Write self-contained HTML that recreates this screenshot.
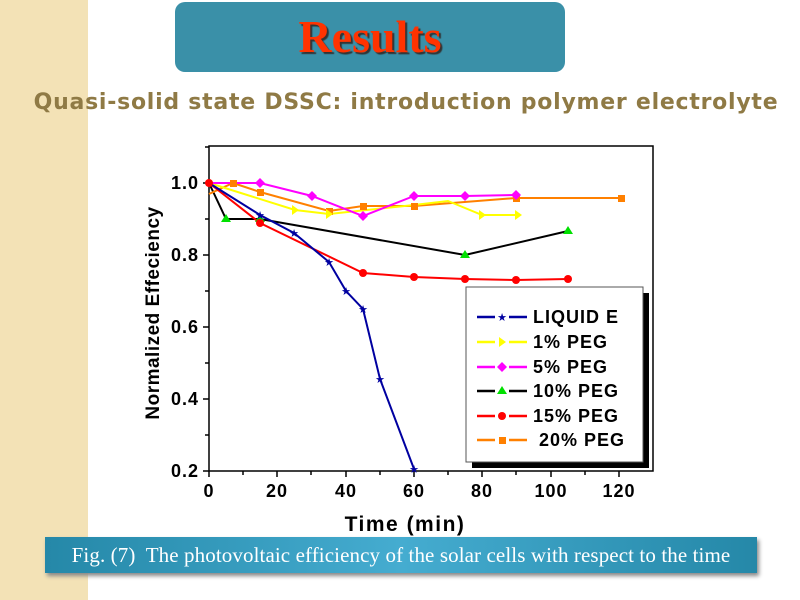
<!DOCTYPE html>
<html><head><meta charset="utf-8"><style>
body{margin:0;width:800px;height:600px;overflow:hidden;background:#fff;position:relative;font-family:"Liberation Sans",sans-serif}
.strip{position:absolute;left:0;top:0;width:88px;height:600px;background:#f3e2b6}
.tbox{position:absolute;left:175px;top:2px;width:390px;height:70px;border-radius:10px;background:#3a90a8}
.ttl{position:absolute;left:175px;top:10px;width:390px;text-align:center;font:bold 46px "Liberation Serif",serif;color:#ff3300;text-shadow:2px 2px 1px #333}
.sub{position:absolute;left:0;top:90px;width:812px;text-align:center;font:bold 22px "DejaVu Sans",sans-serif;color:#8f7a45;letter-spacing:0.75px}
.cap{position:absolute;left:45px;top:537px;width:712px;height:36px;background:linear-gradient(90deg,#2588a8,#45acd0 50%,#2588a8);box-shadow:2px 3px 4px #888;color:#fff;font:21px "Liberation Serif",serif;line-height:36px;text-align:center;letter-spacing:0.1px}
</style></head><body>
<div class="strip"></div>
<div class="tbox"></div><div class="ttl">Results</div>
<div class="sub">Quasi-solid state DSSC: introduction polymer electrolyte</div>
<svg width="800" height="600" style="position:absolute;left:0;top:0">
<g font-family="Liberation Sans" font-weight="bold" font-size="17" fill="#000">
<rect x="209" y="146" width="444" height="325" fill="none" stroke="#000" stroke-width="1.5"/>
<g stroke="#000" stroke-width="1.5">
<line x1="209" y1="471" x2="209" y2="477"/><line x1="277" y1="471" x2="277" y2="477"/><line x1="346" y1="471" x2="346" y2="477"/><line x1="414" y1="471" x2="414" y2="477"/><line x1="482" y1="471" x2="482" y2="477"/><line x1="551" y1="471" x2="551" y2="477"/><line x1="619" y1="471" x2="619" y2="477"/>
<line x1="243" y1="471" x2="243" y2="475"/><line x1="311" y1="471" x2="311" y2="475"/><line x1="380" y1="471" x2="380" y2="475"/><line x1="448" y1="471" x2="448" y2="475"/><line x1="516" y1="471" x2="516" y2="475"/><line x1="585" y1="471" x2="585" y2="475"/>
<line x1="203" y1="471" x2="209" y2="471"/><line x1="203" y1="399" x2="209" y2="399"/><line x1="203" y1="327" x2="209" y2="327"/><line x1="203" y1="255" x2="209" y2="255"/><line x1="203" y1="183" x2="209" y2="183"/>
<line x1="205" y1="435" x2="209" y2="435"/><line x1="205" y1="363" x2="209" y2="363"/><line x1="205" y1="291" x2="209" y2="291"/><line x1="205" y1="219" x2="209" y2="219"/><line x1="205" y1="147" x2="209" y2="147"/>
</g>
<g text-anchor="middle" letter-spacing="1" font-size="18"><text x="209" y="497">0</text><text x="277" y="497">20</text><text x="346" y="497">40</text><text x="414" y="497">60</text><text x="482" y="497">80</text><text x="551" y="497">100</text><text x="619" y="497">120</text></g>
<g text-anchor="end" letter-spacing="1" font-size="18"><text x="199" y="477">0.2</text><text x="199" y="405">0.4</text><text x="199" y="333">0.6</text><text x="199" y="261">0.8</text><text x="199" y="189">1.0</text></g>
<text x="405" y="531" text-anchor="middle" font-size="21" letter-spacing="1.5">Time (min)</text>
<text transform="translate(159,313) rotate(-90)" text-anchor="middle" font-size="19" letter-spacing="0.5">Normalized Effeciency</text>
</g>
<g fill="none" stroke-width="2">
<polyline stroke="#000" points="209,183 226,219 260,219 465,255 568,231"/>
<polyline stroke="#ff8000" points="209,194 233,183 260,192 329,211 363,206 414,206 516,198 621,198"/>
<polyline stroke="#ffff00" points="209,183 295,210 329,214 414,205 448,201 482,215 518,215"/>
<polyline stroke="#ff00ff" points="209,183 260,183 312,196 363,216 414,196 465,196 516,195"/>
<polyline stroke="#ff0000" points="209,183 260,223 363,273 414,277 465,279 516,280 568,279"/>
<polyline stroke="#0000a0" points="209,183 260,215 294,233 329,262 346,291 363,309 380,379 414,469"/>
</g>
<g fill="#00e000"><path d="M226,214l5,8h-10z"/><path d="M260,214l5,8h-10z"/><path d="M465,250l5,8h-10z"/><path d="M568,226l5,8h-10z"/></g>
<g fill="#ff8000"><rect x="230" y="180" width="7" height="7"/><rect x="257" y="189" width="7" height="7"/><rect x="326" y="208" width="7" height="7"/><rect x="360" y="203" width="7" height="7"/><rect x="411" y="203" width="7" height="7"/><rect x="513" y="195" width="7" height="7"/><rect x="618" y="195" width="7" height="7"/></g>
<g fill="#ffff00"><path d="M292,205l7,5l-7,5z"/><path d="M326,209l7,5l-7,5z"/><path d="M479,210l7,5l-7,5z"/><path d="M515,210l7,5l-7,5z"/></g>
<g fill="#ff00ff"><path d="M260,178l5,5l-5,5l-5,-5z"/><path d="M312,191l5,5l-5,5l-5,-5z"/><path d="M363,211l5,5l-5,5l-5,-5z"/><path d="M414,191l5,5l-5,5l-5,-5z"/><path d="M465,191l5,5l-5,5l-5,-5z"/><path d="M516,190l5,5l-5,5l-5,-5z"/></g>
<g fill="#ff0000"><circle cx="209" cy="183" r="4"/><circle cx="260" cy="223" r="4"/><circle cx="363" cy="273" r="4"/><circle cx="414" cy="277" r="4"/><circle cx="465" cy="279" r="4"/><circle cx="516" cy="280" r="4"/><circle cx="568" cy="279" r="4"/></g>
<g fill="#0000a0" font-size="11" text-anchor="middle"><text x="260" y="219">★</text><text x="294" y="237">★</text><text x="329" y="266">★</text><text x="346" y="295">★</text><text x="363" y="313">★</text><text x="380" y="383">★</text><text x="414" y="473">★</text></g>
<rect x="472" y="293" width="177" height="175" fill="#000"/>
<rect x="466" y="287" width="177" height="175" fill="#fff" stroke="#555"/>
<g stroke-width="2.5" fill="none">
<path d="M477,317h18m14,0h18" stroke="#0000a0"/><path d="M477,342h18m14,0h18" stroke="#ffff00"/><path d="M477,367h18m14,0h18" stroke="#ff00ff"/><path d="M477,391h18m14,0h18" stroke="#000"/><path d="M477,416h18m14,0h18" stroke="#ff0000"/><path d="M477,440h18m14,0h18" stroke="#ff8000"/>
</g>
<text x="502" y="321" font-size="11" fill="#0000a0" text-anchor="middle">★</text>
<path d="M499,337l7,5l-7,5z" fill="#ffff00"/><path d="M502,362l5,5l-5,5l-5,-5z" fill="#ff00ff"/><path d="M502,386l5,8h-10z" fill="#00e000"/><circle cx="502" cy="416" r="4" fill="#ff0000"/><rect x="499" y="437" width="7" height="7" fill="#ff8000"/>
<g font-family="Liberation Sans" font-weight="bold" font-size="18" fill="#000" letter-spacing="1">
<text x="533" y="323">LIQUID E</text><text x="533" y="348">1% PEG</text><text x="533" y="373">5% PEG</text><text x="533" y="397">10% PEG</text><text x="533" y="422">15% PEG</text><text x="539" y="446">20% PEG</text>
</g>
</svg>
<div class="cap">Fig. (7)&nbsp; The photovoltaic efficiency of the solar cells with respect to the time</div>
</body></html>
